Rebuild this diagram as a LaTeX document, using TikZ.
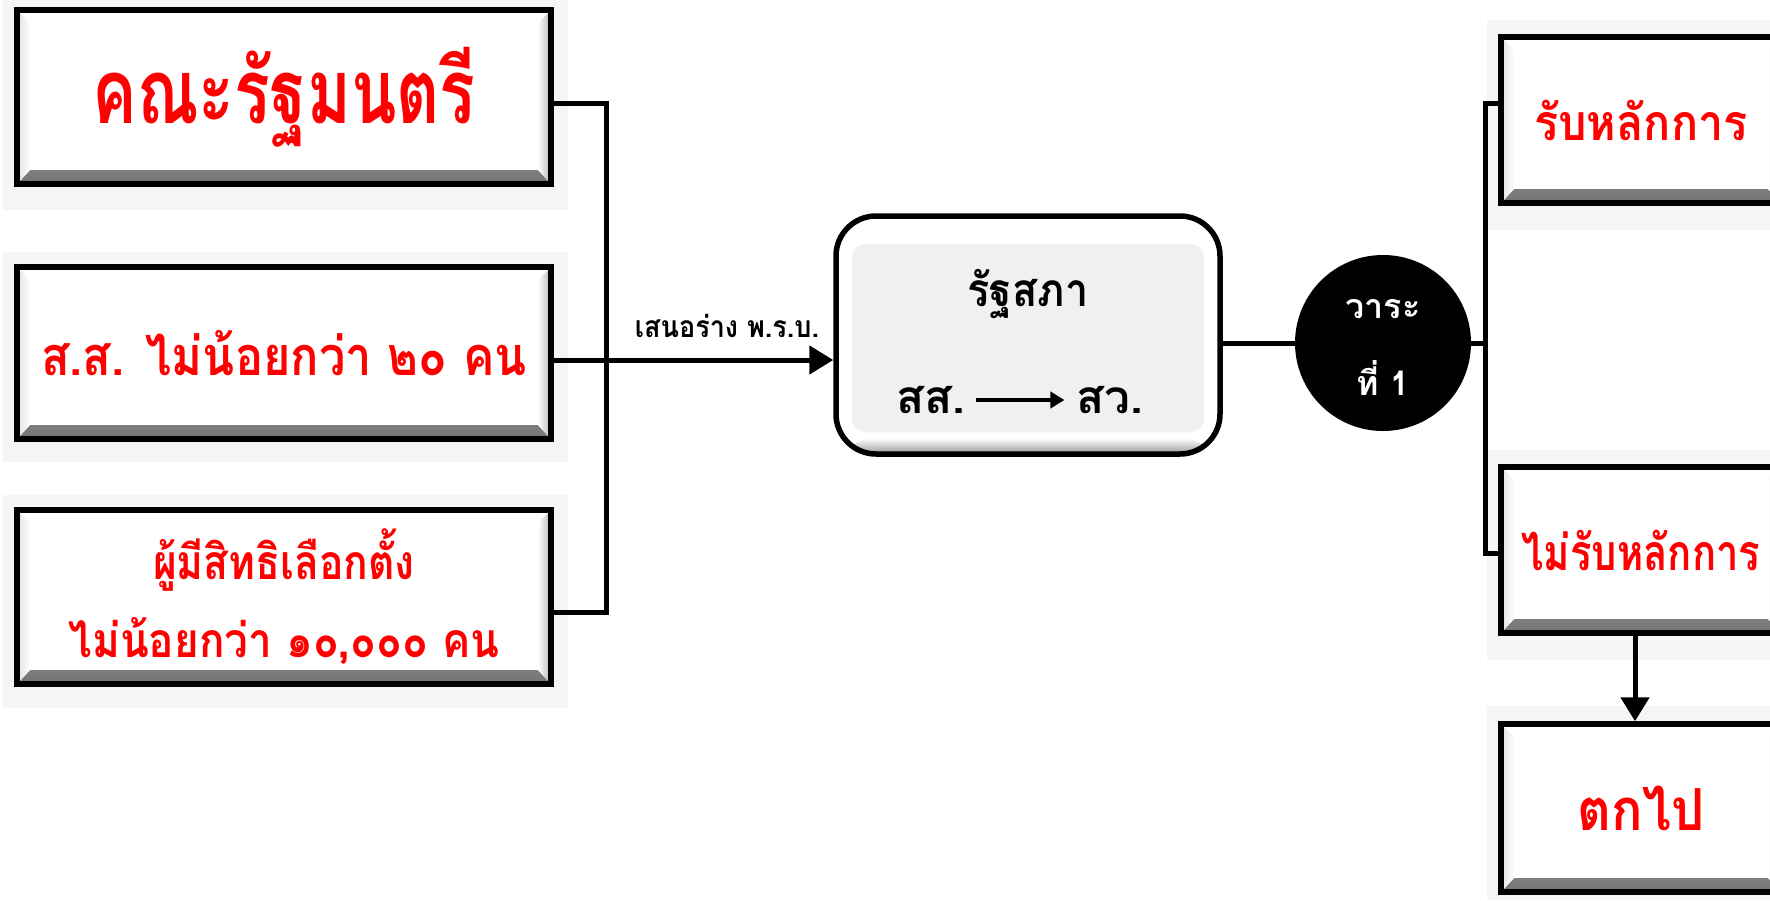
\documentclass[tikz,border=0pt]{standalone}
\usepackage{fontspec}
\newfontfamily\thai[Script=Thai]{Loma}
\usetikzlibrary{arrows.meta,calc}
\newcommand{\sx}[2]{\scalebox{#1}[1]{#2}}
\begin{document}
\begin{tikzpicture}[x=1pt,y=-1pt,font=\thai,
  halo/.style={fill=black!4, draw=none},
  bevel/.style={path picture={
     \shade[top color=white, bottom color=black!55]
       ([shift={(2pt,2pt)}]path picture bounding box.south west) --
       ([shift={(-2pt,2pt)}]path picture bounding box.south east) --
       ([shift={(-13pt,14pt)}]path picture bounding box.south east) --
       ([shift={(13pt,14pt)}]path picture bounding box.south west) -- cycle;
     \shade[left color=white, right color=black!25]
       ([shift={(-13pt,14pt)}]path picture bounding box.south east) --
       ([shift={(-2pt,2pt)}]path picture bounding box.south east) --
       ([shift={(-2pt,-2pt)}]path picture bounding box.north east) --
       ([shift={(-13pt,-13pt)}]path picture bounding box.north east) -- cycle;
     \shade[right color=white, left color=black!10]
       ([shift={(13pt,14pt)}]path picture bounding box.south west) --
       ([shift={(2pt,2pt)}]path picture bounding box.south west) --
       ([shift={(2pt,-2pt)}]path picture bounding box.north west) --
       ([shift={(13pt,-13pt)}]path picture bounding box.north west) -- cycle;
  }},
  srcbox/.style={draw, line width=5.5pt, fill=white, inner sep=0pt, bevel,
     text=red, align=center},
  parlbox/.style={draw, line width=5.5pt, rounded corners=40pt, fill=white, inner sep=0pt,
     path picture={
       \fill[black!6, rounded corners=14pt]
         ([shift={(16pt,-28pt)}]path picture bounding box.north west) rectangle
         ([shift={(-16pt,22pt)}]path picture bounding box.south east);
       \shade[top color=white, bottom color=black!50, opacity=0.8]
         ([shift={(0pt,0pt)}]path picture bounding box.south west) rectangle
         ([shift={(0pt,16pt)}]path picture bounding box.south east);
     }},
  conn/.style={line width=5pt},
  arr/.style={line width=5pt, -{Triangle[length=24pt,width=28pt]}},
  lbl/.style={font=\thai\bfseries, text=black, inner sep=0pt}
]
\useasboundingbox (0,0) rectangle (1770,900);
\clip (0,0) rectangle (1770,900);

% halos
\fill[halo] (3,0) rectangle (568,210);
\fill[halo] (3,252) rectangle (568,462);
\fill[halo] (3,495) rectangle (568,708);
\fill[halo] (1487,20) rectangle (1770,230);
\fill[halo] (1487,450) rectangle (1770,660);
\fill[halo] (1487,706) rectangle (1770,900);

% left boxes
\node[srcbox, minimum width=534pt, minimum height=174pt, font=\thai\bfseries\fontsize{90}{100}\selectfont]
  (b1) at (284,97) {\sx{0.74}{คณะรัฐมนตรี}};
\node[srcbox, minimum width=534pt, minimum height=172pt, font=\thai\bfseries\fontsize{54}{60}\selectfont]
  (b2) at (284,353) {\sx{0.87}{ส.ส. ไม่น้อยกว่า ๒๐ คน}};
\node[srcbox, minimum width=534pt, minimum height=174pt, font=\thai\bfseries\fontsize{48}{78}\selectfont]
  (b3) at (284,597) {\sx{0.85}{ผู้มีสิทธิเลือกตั้ง}\\\sx{0.88}{ไม่น้อยกว่า ๑๐,๐๐๐ คน}};

% parliament
\node[parlbox, minimum width=384pt, minimum height=238pt] (parl) at (1028,335) {};
\node[lbl, font=\thai\bfseries\fontsize{46}{52}\selectfont] (parlt) at (1028,294) {\sx{0.9}{รัฐสภา}};
\node[lbl, font=\thai\bfseries\fontsize{46}{52}\selectfont] (ss) at (931,400) {สส.};
\node[lbl, font=\thai\bfseries\fontsize{46}{52}\selectfont] (sw) at (1110,400) {สว.};
\draw[line width=3.5pt, -{Triangle[length=14pt,width=16pt]}] ([xshift=10pt]ss.east) -- ([xshift=-12pt]sw.west);

% circle
\node[circle, fill=black, minimum size=176pt, inner sep=0pt] (c1) at (1383,343) {};
\node[lbl, text=white, font=\thai\bfseries\fontsize{34}{40}\selectfont] (c1a) at (1383,309) {วาระ};
\node[lbl, text=white, font=\thai\bfseries\fontsize{34}{40}\selectfont] (c1b) at (1383,378) {ที่ 1};

% right boxes
\node[srcbox, minimum width=280pt, minimum height=166pt, font=\thai\bfseries\fontsize{50}{58}\selectfont]
  (r1) at (1641,120) {\sx{0.9}{รับหลักการ}};
\node[srcbox, minimum width=280pt, minimum height=166pt, font=\thai\bfseries\fontsize{50}{58}\selectfont]
  (r2) at (1641,550) {\sx{0.8}{ไม่รับหลักการ}};
\node[srcbox, minimum width=280pt, minimum height=168pt, font=\thai\bfseries\fontsize{58}{66}\selectfont]
  (r3) at (1641,808) {\sx{0.9}{ตกไป}};

% connectors left
\coordinate (j1) at (606,103);
\coordinate (j3) at (606,612);
\coordinate (j2) at (606,360);
\draw[conn] (b1.east |- j1) -- (j1) -- (j3) -- (b3.east |- j3);
\draw[arr] (b2.east |- j2) -- (parl.west |- j2);
\node[lbl, font=\thai\bfseries\fontsize{30}{34}\selectfont, anchor=south] (lab) at (727,338) {\sx{0.9}{เสนอร่าง พ.ร.บ.}};

% connectors right
\draw[conn] (parl.east |- c1.west) -- (c1.west);
\coordinate (k0) at (1485,343);
\coordinate (k1) at (1485,103);
\coordinate (k2) at (1485,553);
\draw[conn] (c1.east) -- (k0);
\draw[conn] (r1.west |- k1) -- (k1) -- (k2) -- (r2.west |- k2);
\draw[arr] (r2.south -| 1635,0) -- (r3.north -| 1635,0);
\end{tikzpicture}
\end{document}
